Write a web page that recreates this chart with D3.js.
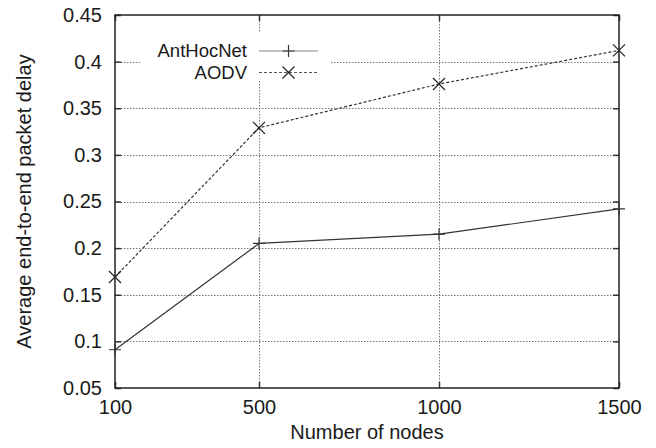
<!DOCTYPE html>
<html><head><meta charset="utf-8">
<script src="https://cdn.jsdelivr.net/npm/d3@7"></script>
<style>html,body{margin:0;padding:0;background:#fff}svg{display:block}</style>
</head><body>
<svg id="c" width="656" height="448"></svg>
<script>
const nodes = [100, 500, 1000, 1500];
const antHocNet = [0.091, 0.205, 0.215, 0.242];
const aodv = [0.169, 0.329, 0.376, 0.412];
const yTicks = [0.05, 0.1, 0.15, 0.2, 0.25, 0.3, 0.35, 0.4, 0.45];
const xTicks = [100, 500, 1000, 1500];
const seriesNames = ["AntHocNet", "AODV"];

const svg = d3.select("#c");
const L = 115, R = 619, T = 15, B = 388;
const x = d3.scaleLinear().domain([100, 1500]).range([L, R]);
const y = d3.scaleLinear().domain([0.05, 0.45]).range([B, T]);
const font = "Liberation Sans, Arial, Helvetica, sans-serif";
const fs = 20;
const txt = "#1a1a1a";

// grid
const g = svg.append("g");
g.selectAll("line.gy").data(yTicks.slice(1, -1)).enter().append("line")
  .attr("x1", L).attr("x2", R).attr("y1", d => Math.round(y(d)) + 0.5).attr("y2", d => Math.round(y(d)) + 0.5)
  .attr("stroke", "#777").attr("stroke-width", 1).attr("stroke-dasharray", "1.5,1.5");
g.selectAll("line.gx").data(xTicks.slice(1, -1)).enter().append("line")
  .attr("y1", T).attr("y2", B).attr("x1", d => Math.round(x(d)) + 0.5).attr("x2", d => Math.round(x(d)) + 0.5)
  .attr("stroke", "#777").attr("stroke-width", 1).attr("stroke-dasharray", "1.5,1.5");

// axes via d3 axis, ticks inward
const axL = d3.axisLeft(y).tickValues(yTicks).tickSize(-6).tickPadding(13).tickFormat(d3.format("~g"));
const axR = d3.axisRight(y).tickValues(yTicks).tickSize(-6).tickFormat("");
const axB = d3.axisBottom(x).tickValues(xTicks).tickSize(-6).tickPadding(12).tickFormat(d3.format("d"));
const axT = d3.axisTop(x).tickValues(xTicks).tickSize(-6).tickFormat("");
function style(sel) {
  sel.select(".domain").remove();
  sel.selectAll(".tick line").attr("stroke", "#333").attr("stroke-width", 1.5);
  sel.selectAll("text").attr("font-family", font).attr("font-size", fs).attr("fill", txt);
}
svg.append("g").attr("transform", `translate(${L},0)`).call(axL).call(style);
svg.append("g").attr("transform", `translate(${R},0)`).call(axR).call(style);
svg.append("g").attr("transform", `translate(0,${B})`).call(axB).call(style);
svg.append("g").attr("transform", `translate(0,${T})`).call(axT).call(style);

// legend box (opaque)
svg.append("rect").attr("x", 140).attr("y", 33).attr("width", 190).attr("height", 48).attr("fill", "#fff");

// frame
svg.append("rect").attr("x", L).attr("y", T).attr("width", R - L).attr("height", B - T)
  .attr("fill", "none").attr("stroke", "#222").attr("stroke-width", 1.5);

// lines
const line = d3.line().x((d, i) => x(nodes[i])).y(d => y(d));
svg.append("path").datum(antHocNet).attr("d", line).attr("fill", "none")
  .attr("stroke", "#333").attr("stroke-width", 1.2);
svg.append("path").datum(aodv).attr("d", line).attr("fill", "none")
  .attr("stroke", "#333").attr("stroke-width", 1.2).attr("stroke-dasharray", "3,2");

const m = 6;
function plus(sel, cx, cy) {
  sel.append("path").attr("d", `M${cx - m},${cy}H${cx + m}M${cx},${cy - m}V${cy + m}`)
    .attr("stroke", "#333").attr("stroke-width", 1.2).attr("fill", "none");
}
function cross(sel, cx, cy) {
  sel.append("path").attr("d", `M${cx - m},${cy - m}L${cx + m},${cy + m}M${cx - m},${cy + m}L${cx + m},${cy - m}`)
    .attr("stroke", "#222").attr("stroke-width", 1.2).attr("fill", "none");
}
const mk = svg.append("g");
antHocNet.forEach((v, i) => plus(mk, x(nodes[i]), y(v)));
aodv.forEach((v, i) => cross(mk, x(nodes[i]), y(v)));

// legend
const lg = svg.append("g");
const rows = [51, 72.5];
const lfs = 18.5;
seriesNames.forEach((name, i) => {
  lg.append("text").attr("x", 247).attr("y", rows[i]).attr("dy", "0.35em").attr("text-anchor", "end")
    .attr("font-family", font).attr("font-size", lfs).attr("fill", txt).text(name);
  lg.append("line").attr("x1", 259).attr("x2", 318).attr("y1", rows[i]).attr("y2", rows[i])
    .attr("stroke", i === 0 ? "#888" : "#555").attr("stroke-width", 1.2)
    .attr("stroke-dasharray", i === 0 ? null : "3,2");
  if (i === 0) plus(lg, 288.5, rows[i]); else cross(lg, 288.5, rows[i]);
});

// axis titles
svg.append("text").attr("x", (L + R) / 2).attr("y", 439).attr("text-anchor", "middle")
  .attr("font-family", font).attr("font-size", fs).attr("fill", txt).text("Number of nodes");
svg.append("text").attr("transform", `translate(31,${(T + B) / 2}) rotate(-90)`).attr("text-anchor", "middle")
  .attr("font-family", font).attr("font-size", fs).attr("fill", txt).text("Average end-to-end packet delay");
</script>
</body></html>
